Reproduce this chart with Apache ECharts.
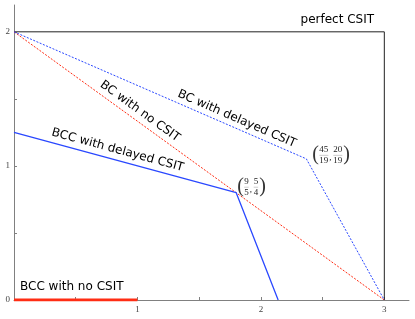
<!DOCTYPE html>
<html><head><meta charset="utf-8">
<script src="https://cdn.jsdelivr.net/npm/echarts@6/dist/echarts.min.js"></script>
<style>html,body{margin:0;padding:0;background:#fff}#c{width:415px;height:319px}</style>
</head><body><div id="c"></div>
<script>
// Data
var perfectX = [0, 3, 3];
var perfectY = [2, 2, 0];
var bcNoX = [0, 3];
var bcNoY = [2, 0];
var bcDelX = [0, 45/19, 3];
var bcDelY = [2, 20/19, 0];
var bccDelX = [0, 1.8, 2.14];
var bccDelY = [1.25, 0.8, 0];
var bccNoX = [0, 1];
var bccNoY = [0, 0];
var xTicks = [0, 0.5, 1, 1.5, 2, 2.5, 3];
var xTickLabels = [1, 2, 3];
var yTicks = [0, 0.5, 1, 1.5, 2];
var yTickLabels = [0, 1, 2];

function pairs(xs, ys){ return xs.map(function(x,i){ return [x, ys[i]]; }); }

var BLUE = '#2a48ff', RED = '#ff2d14';
var chart = echarts.init(document.getElementById('c'), null, {renderer:'canvas'});
var serif = '"Liberation Serif","DejaVu Serif",serif';
chart.setOption({
  animation:false,
  grid:{left:14, right:6, top:5, bottom:19, containLabel:false},
  xAxis:{type:'value', min:0, max:3.2, splitLine:{show:false},
    axisLine:{show:true, onZero:false, lineStyle:{color:'#808080', width:1}},
    axisTick:{show:true, inside:true, length:3, customValues:xTicks, lineStyle:{color:'#808080'}},
    axisLabel:{customValues:xTickLabels, fontFamily:serif, fontSize:9, color:'#444', margin:5}},
  yAxis:{type:'value', min:0, max:2.2, splitLine:{show:false},
    axisLine:{show:true, onZero:false, lineStyle:{color:'#808080', width:1}},
    axisTick:{show:true, inside:true, length:3, customValues:yTicks, lineStyle:{color:'#808080'}},
    axisLabel:{customValues:yTickLabels, fontFamily:serif, fontSize:9, color:'#444', margin:4}},
  series:[
    {type:'line', data:pairs(perfectX, perfectY), symbol:'none', lineStyle:{color:'#222', width:1}, z:3},
    {type:'line', data:pairs(bcNoX, bcNoY), symbol:'none', lineStyle:{color:RED, width:1, type:[2,1.5]}},
    {type:'line', data:pairs(bcDelX, bcDelY), symbol:'none', lineStyle:{color:BLUE, width:1, type:[2,1.5]}},
    {type:'line', data:pairs(bccDelX, bccDelY), symbol:'none', lineStyle:{color:BLUE, width:1.3}},
    {type:'line', data:pairs(bccNoX, bccNoY), symbol:'none', lineStyle:{color:RED, width:3}, z:4}
  ]
});

function px(x,y){ return chart.convertToPixel({gridIndex:0}, [x,y]); }
var sans = '"DejaVu Sans",sans-serif';
var graphics = [];
function lineLabel(text, xs, ys, seg, t, d){
  var p0 = px(xs[seg], ys[seg]), p1 = px(xs[seg+1], ys[seg+1]);
  var th = Math.atan2(p1[1]-p0[1], p1[0]-p0[0]);
  var ax = p0[0] + (p1[0]-p0[0])*t, ay = p0[1] + (p1[1]-p0[1])*t;
  graphics.push({type:'text', x: ax + d*Math.sin(th), y: ay - d*Math.cos(th), rotation:-th,
    style:{text:text, font:'12px '+sans, fill:'#000', align:'center', verticalAlign:'middle'}, z:10});
}
lineLabel('BC with no CSIT', bcNoX, bcNoY, 0, 0.325, 9.5);
lineLabel('BC with delayed CSIT', bcDelX, bcDelY, 0, 0.75, 9);
lineLabel('BCC with delayed CSIT', bccDelX, bccDelY, 0, 0.455, 10);

var pc = px(3, 2);
graphics.push({type:'text', x: pc[0]-47, y: 20, style:{text:'perfect CSIT', font:'12px '+sans, fill:'#000', align:'center', verticalAlign:'middle'}});
var pb = px(0, 0);
graphics.push({type:'text', x: pb[0]+6, y: 287, style:{text:'BCC with no CSIT', font:'12px '+sans, fill:'#000', align:'left', verticalAlign:'middle'}});

function fracLabel(p, dx, dy, fr){
  var x = p[0]+dx, y = p[1]+dy;
  var ch = [];
  var cx = 0;
  ch.push({type:'text', x:cx, y:0, style:{text:'(', font:'20px '+serif, fill:'#333', align:'left', verticalAlign:'middle'}});
  cx += 7;
  fr.forEach(function(f, i){
    var w = Math.max(String(f[0]).length, String(f[1]).length)*4.5;
    ch.push({type:'text', x:cx+w/2, y:-5, style:{text:String(f[0]), font:'9px '+serif, fill:'#222', align:'center', verticalAlign:'middle'}});
    ch.push({type:'text', x:cx+w/2, y:5.5, style:{text:String(f[1]), font:'9px '+serif, fill:'#222', align:'center', verticalAlign:'middle'}});
    ch.push({type:'line', shape:{x1:cx, y1:0.5, x2:cx+w, y2:0.5}, style:{stroke:'#999', lineWidth:0.5}});
    cx += w + 1;
    if (i < fr.length-1){
      ch.push({type:'text', x:cx, y:3, style:{text:',', font:'9px '+serif, fill:'#222', align:'left', verticalAlign:'middle'}});
      cx += 4;
    }
  });
  ch.push({type:'text', x:cx, y:0, style:{text:')', font:'20px '+serif, fill:'#333', align:'left', verticalAlign:'middle'}});
  graphics.push({type:'group', x:x, y:y, children:ch, z:10});
}
fracLabel(px(bccDelX[1], bccDelY[1]), 1, -6, [[9,5],[5,4]]);
fracLabel(px(bcDelX[1], bcDelY[1]), 6, -4, [[45,19],[20,19]]);

chart.setOption({graphic:graphics});
</script>
</body></html>
